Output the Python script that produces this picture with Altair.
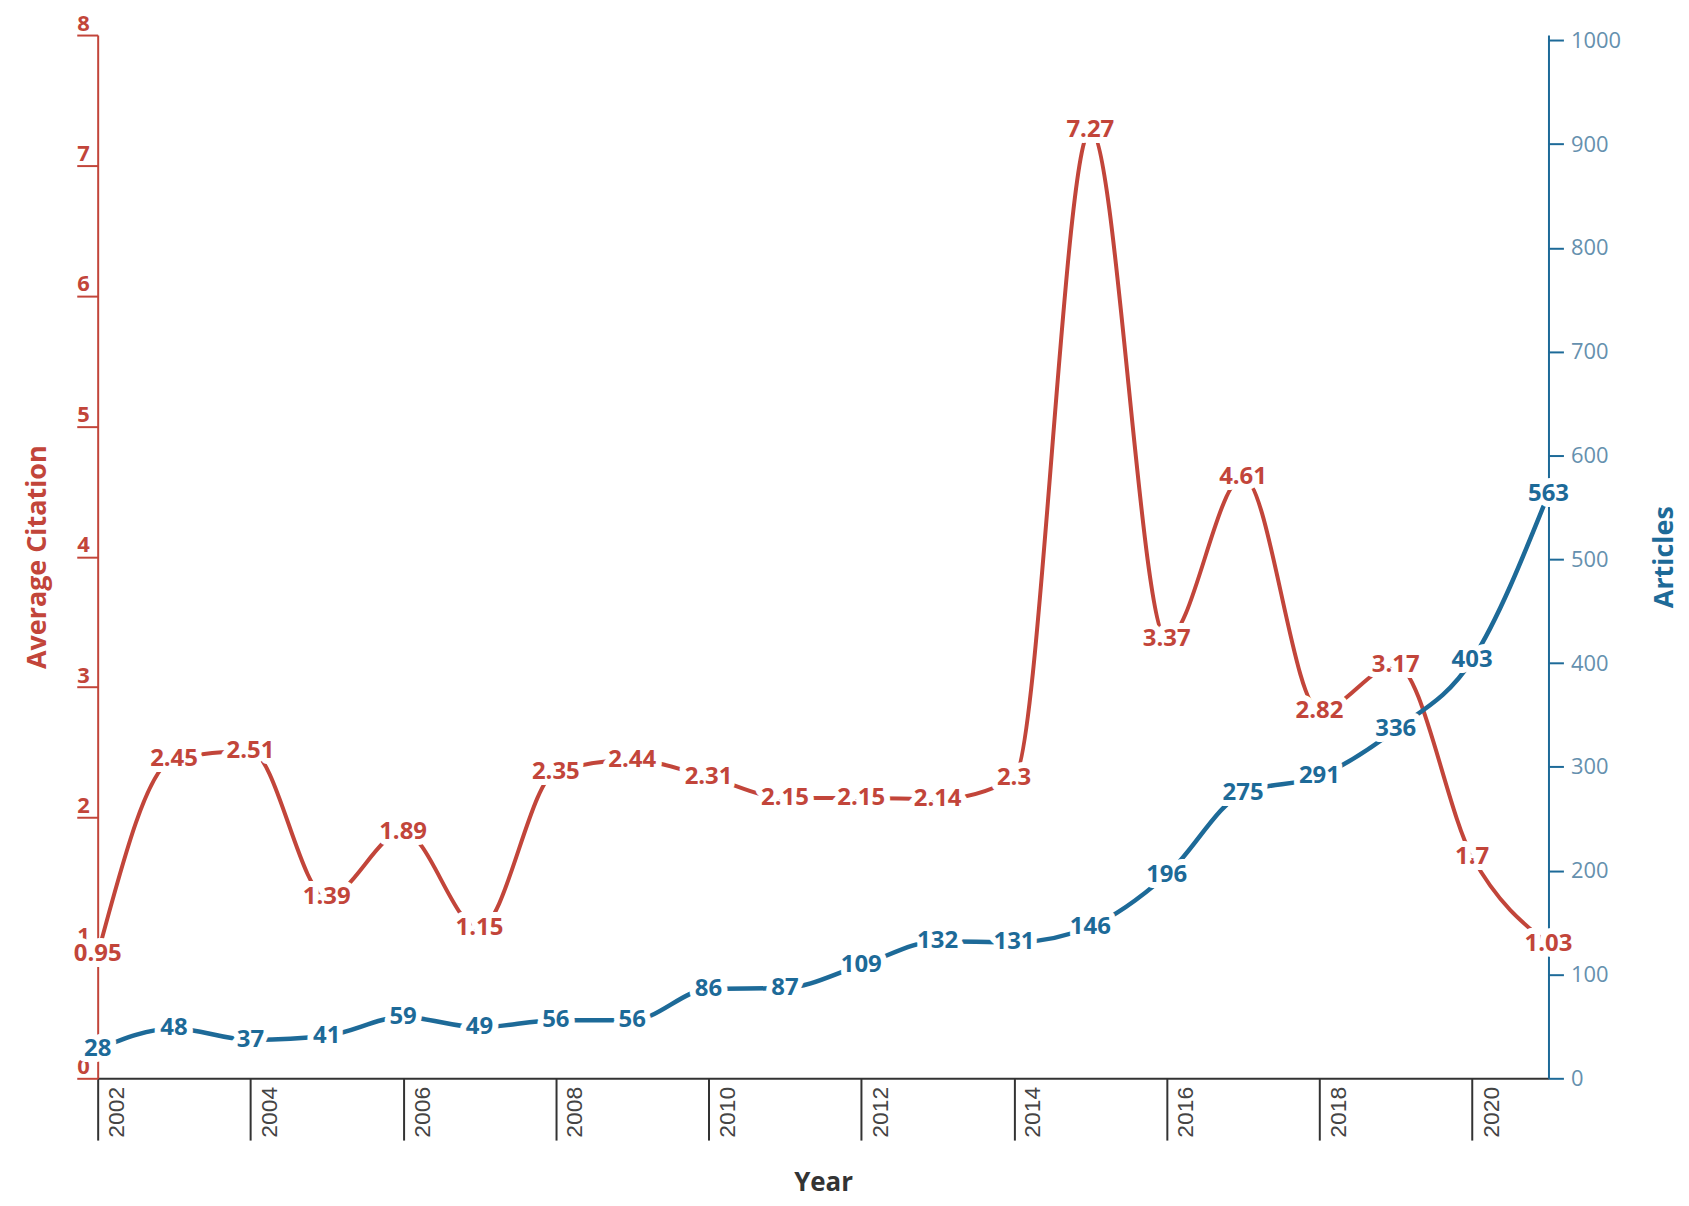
import altair as alt
import pandas as pd

years = list(range(2002, 2022))
avg_citation = [0.95, 2.45, 2.51, 1.39, 1.89, 1.15, 2.35, 2.44, 2.31, 2.15,
                2.15, 2.14, 2.3, 7.27, 3.37, 4.61, 2.82, 3.17, 1.7, 1.03]
articles = [28, 48, 37, 41, 59, 49, 56, 56, 86, 87,
            109, 132, 131, 146, 196, 275, 291, 336, 403, 563]
year_ticks = list(range(2002, 2021, 2))
cit_ticks = list(range(0, 9))
art_ticks = list(range(0, 1001, 100))

RED = "#c2453a"
BLUE = "#1d6a98"
FONT = "Open Sans"

df = pd.DataFrame({
    "year": years,
    "cit": avg_citation,
    "art": articles,
    "cit_label": [str(v) for v in avg_citation],
    "art_label": [str(v) for v in articles],
})

W, H = 1456, 1047

x_enc = alt.X("year:Q",
              scale=alt.Scale(domain=[2002, 2021], nice=False, zero=False),
              axis=alt.Axis(values=year_ticks, format="d", grid=False,
                            tickSize=62, tickWidth=2, tickColor="#333333",
                            domainColor="#333333", domainWidth=2,
                            labelAngle=270, labelAlign="right", labelBaseline="middle",
                            labelPadding=-54, labelOffset=19, labelFlush=False,
                            labelOverlap=False,
                            labelFont="Liberation Sans", labelFontSize=23,
                            labelColor="#444444",
                            title="Year", titleFont=FONT, titleFontSize=26,
                            titleFontWeight="bold", titleColor="#333333",
                            titleX=W / 2, titleY=113, titleAlign="center",
                            titleBaseline="alphabetic"))

cit_scale = alt.Scale(domain=[0, 8], nice=False, zero=True)
art_scale = alt.Scale(domain=[0, 1005], nice=False, zero=True)

left_axis = alt.Axis(orient="left", values=cit_ticks, grid=False,
                     tickSize=21, tickWidth=2, tickColor=RED,
                     domainColor=RED, domainWidth=2,
                     labelAlign="left", labelPadding=0, labelBaseline="alphabetic",
                     labelOffset=-5, labelColor=RED, labelFont=FONT,
                     labelFontSize=22, labelFontWeight="bold",
                     title="Average Citation", titleColor=RED, titleFont=FONT,
                     titleFontSize=27, titleFontWeight="bold",
                     titleX=-60, titleY=H / 2, titleAngle=270,
                     titleAlign="center", titleBaseline="middle")

right_axis = alt.Axis(orient="right", values=art_ticks, format="d", grid=False,
                      tickSize=15, tickWidth=2, tickColor=BLUE,
                      domainColor=BLUE, domainWidth=2,
                      labelPadding=7, labelColor="#6590ae", labelFont=FONT,
                      labelFontSize=22,
                      title="Articles", titleColor=BLUE, titleFont=FONT,
                      titleFontSize=27, titleFontWeight="bold",
                      titleX=116, titleY=H / 2, titleAngle=270,
                      titleAlign="center", titleBaseline="middle")

base = alt.Chart(df)

red_line = base.mark_line(color=RED, strokeWidth=4, interpolate="monotone").encode(
    x=x_enc, y=alt.Y("cit:Q", scale=cit_scale, axis=left_axis))
blue_line = base.mark_line(color=BLUE, strokeWidth=4.5, interpolate="monotone").encode(
    x=x_enc, y=alt.Y("art:Q", scale=art_scale, axis=right_axis))

def halo(field, scale, label):
    return base.mark_text(font=FONT, fontSize=24, fontWeight="bold", fill="white",
                          stroke="white", strokeWidth=12, strokeJoin="round").encode(
        x="year:Q", y=alt.Y(f"{field}:Q", scale=scale, axis=None), text=f"{label}:N")

def label(field, scale, label, color):
    return base.mark_text(font=FONT, fontSize=24, fontWeight="bold", color=color).encode(
        x="year:Q", y=alt.Y(f"{field}:Q", scale=scale, axis=None), text=f"{label}:N")

chart = alt.layer(
    red_line, blue_line,
    halo("cit", cit_scale, "cit_label"), halo("art", art_scale, "art_label"),
    label("cit", cit_scale, "cit_label", RED), label("art", art_scale, "art_label", BLUE),
).resolve_scale(y="independent").properties(
    width=W, height=H,
    autosize=alt.AutoSizeParams(type="none"),
    padding={"left": 90, "top": 25, "right": 133, "bottom": 125},
).configure_view(strokeWidth=0)

chart.save("out.html", embed_options={"renderer": "svg", "actions": False})
